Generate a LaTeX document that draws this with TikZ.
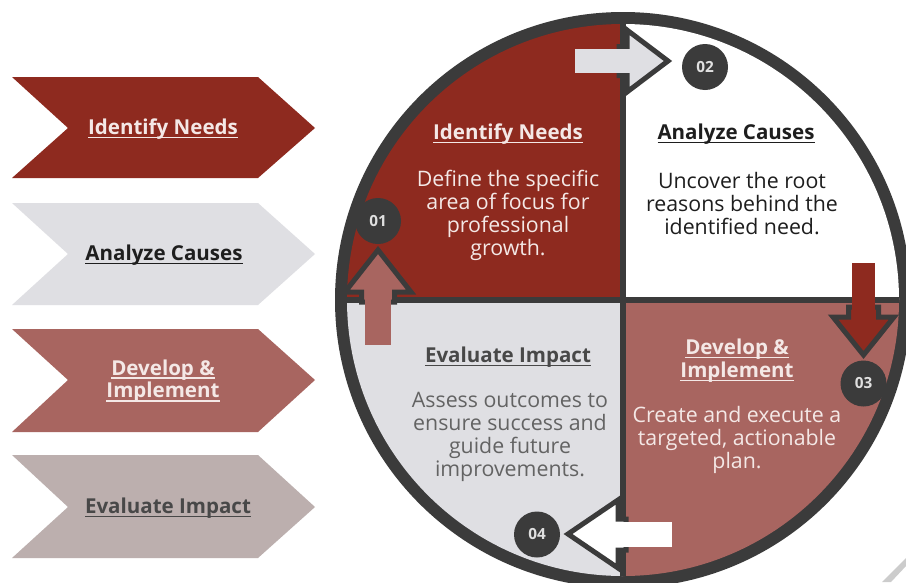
\documentclass[tikz,border=0pt]{standalone}
\usepackage{fontspec}
\setmainfont{Open Sans}
\definecolor{brick}{HTML}{8E2A1F}
\definecolor{mauve}{HTML}{A86560}
\definecolor{paleg}{HTML}{DFDFE3}
\definecolor{taupe}{HTML}{BCAFAE}
\definecolor{ring}{HTML}{3B3B3B}
\definecolor{lighttxt}{HTML}{F4E8E6}
\definecolor{darktxt}{HTML}{1E1E1E}
\definecolor{greytxt}{HTML}{484848}
% underline with a heavier rule than \underline
\newcommand{\hu}[1]{\setbox0=\hbox{#1}\leavevmode\rlap{\rule[-3pt]{\wd0}{1.2pt}}\box0}
\begin{document}
\begin{tikzpicture}[x=0.75pt,y=-0.75pt,
  chev/.style={fill=#1},
  lbl/.style={align=center,inner sep=0pt,font=\fontsize{15.4}{17}\selectfont\bfseries},
  hdr/.style={align=center,inner sep=0pt,font=\fontsize{15.4}{17.25}\selectfont\bfseries},
  body/.style={align=center,inner sep=0pt,font=\fontsize{16}{17.25}\selectfont},
  badge/.style={circle,fill=ring,minimum size=34.5pt,inner sep=0pt,text=white!88!black,font=\fontsize{11.5}{13}\selectfont\bfseries},
  blockhead/.style={fill=#1,draw=ring,line width=3.75pt,line join=miter},
  shaft/.style={fill=#1}]
\useasboundingbox (0,0) rectangle (906,582);
\fill[white] (0,0) rectangle (906,582);

% left-hand chevrons
\fill[chev=brick] (12,77) -- (258,77) -- (315,128) -- (258,178) -- (12,178) -- (68,128) -- cycle;
\fill[chev=paleg] (12,203) -- (258,203) -- (315,254) -- (258,305) -- (12,305) -- (68,254) -- cycle;
\fill[chev=mauve] (12,329) -- (258,329) -- (315,380) -- (258,432) -- (12,432) -- (68,380) -- cycle;
\fill[chev=taupe] (12,455) -- (258,455) -- (315,507) -- (258,558) -- (12,558) -- (68,507) -- cycle;
\node[lbl,text=lighttxt] (l1) at (163,129) {\hu{Identify Needs}};
\node[lbl,text=darktxt] (l2) at (164,255) {\hu{Analyze Causes}};
\node[lbl,text=lighttxt] (l3) at (163,381) {\hu{Develop \&}\\\hu{Implement}};
\node[lbl,text=greytxt] (l4) at (168,508) {\hu{Evaluate Impact}};

% cycle wheel
\coordinate (c) at (623,300);
\fill[ring] (c) circle[radius=216pt];
\begin{scope}
  \clip (c) circle[radius=207pt];
  \fill[brick] (300,0) rectangle (623,300);
  \fill[white] (623,0) rectangle (920,300);
  \fill[mauve] (623,300) rectangle (920,600);
  \fill[paleg] (300,300) rectangle (623,600);
  \draw[ring,line width=4.8pt] (623,0) -- (623,600);
  \draw[ring,line width=3.9pt] (300,300) -- (920,300);
\end{scope}

% quadrant texts
\node[hdr,text=lighttxt] (h1) at (508,134) {\hu{Identify Needs}};
\node[body,text=lighttxt] (b1) at (508,215) {Define the specific\\area of focus for\\professional\\growth.};
\node[hdr,text=darktxt] (h2) at (736,134) {\hu{Analyze Causes}};
\node[body,text=darktxt] (b2) at (742,203.5) {Uncover the root\\reasons behind the\\identified need.};
\node[hdr,text=lighttxt] (h3) at (737,360.5) {\hu{Develop \&}\\\hu{Implement}};
\node[body,text=lighttxt] (b3) at (737,440) {Create and execute a\\targeted, actionable\\plan.};
\node[hdr,text=greytxt] (h4) at (508,357) {\hu{Evaluate Impact}};
\node[body,text=greytxt!85!white] (b4) at (510,437) {Assess outcomes to\\ensure success and\\guide future\\improvements.};

% block arrows between the steps
% 4 -> 1 (up)
\path[blockhead=mauve] (345,292) -- (378,250) -- (411,292) -- (394.5,292) -- (394.5,302) -- (361.5,302) -- (361.5,292) -- cycle;
\fill[shaft=mauve] (365,290) rectangle (391,345);
% 1 -> 2 (right)
\path[blockhead=paleg] (627,30) -- (668,61) -- (627,92) -- (627,75.5) -- (619,75.5) -- (619,46.5) -- (627,46.5) -- cycle;
\fill[shaft=paleg] (575,49) rectangle (630,73);
% 2 -> 3 (down)
\path[blockhead=brick] (833,317) -- (863.5,355) -- (894,317) -- (878.5,317) -- (878.5,307) -- (848.5,307) -- (848.5,317) -- cycle;
\fill[shaft=brick] (852,263) rectangle (875,320);
% 3 -> 4 (left)
\path[blockhead=white] (618,500) -- (568,534) -- (618,568) -- (618,550) -- (626,550) -- (626,519) -- (618,519) -- cycle;
\fill[shaft=white] (615,522) rectangle (672,547);

% step badges
\node[badge] (n1) at (378,221) {01};
\node[badge] (n2) at (705,67) {02};
\node[badge] (n3) at (863.5,383.5) {03};
\node[badge] (n4) at (537,534.5) {04};

% corner sliver
\fill[black!20] (882,582) -- (906,558) -- (906,566) -- (891,582) -- cycle;
\end{tikzpicture}
\end{document}
